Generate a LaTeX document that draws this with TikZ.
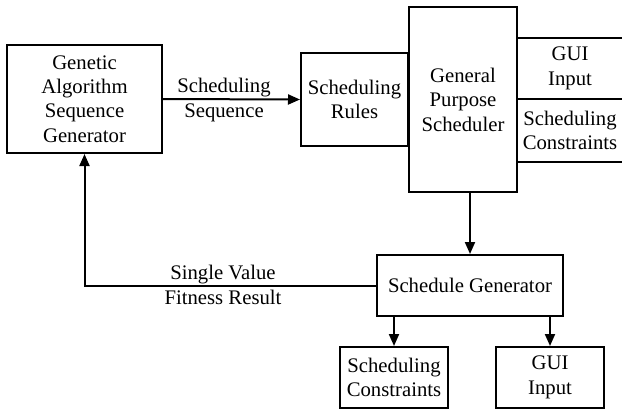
\documentclass[tikz,border=0pt]{standalone}
\usepackage{fontspec}
\setmainfont{Liberation Serif}
\usetikzlibrary{arrows.meta,calc}
\begin{document}
\begin{tikzpicture}[x=1bp,y=-1bp,
  line width=2bp,
  every node/.style={font=\fontsize{20.8}{24.5}\selectfont, align=center, inner sep=0pt},
  box/.style={draw, rectangle},
  arr/.style={-{Triangle[length=12bp,width=10bp]}},
  lbl/.style={draw=none}]
\useasboundingbox (0,0) rectangle (622,411);
\node[box, minimum width=155bp, minimum height=108bp] (ga) at (84.5,99) {Genetic\\Algorithm\\Sequence\\Generator};
\node[box, minimum width=107bp, minimum height=93bp] (sr) at (354.5,99.5) {Scheduling\\Rules};
\node[box, minimum width=108bp, minimum height=185bp] (gps) at (463,99.5) {General\\Purpose\\Scheduler};
\node[box, minimum width=186bp, minimum height=61bp] (sg) at (470,285.5) {Schedule Generator};
\node[box, minimum width=108bp, minimum height=61bp] (sc) at (394,377.5) {Scheduling\\Constraints};
\node[box, minimum width=108bp, minimum height=61bp] (gui) at (550,377.5) {GUI\\Input};
% right side inputs
\coordinate (r1) at (622,38);
\coordinate (r2) at (622,99);
\coordinate (r3) at (622,162);
\draw (gps.east |- r1) -- (r1);
\draw (gps.east |- r2) -- (r2);
\draw (gps.east |- r3) -- (r3);
\node[lbl] (guiin) at (570,68.5) {GUI\\Input};
\node[lbl] (scin) at (570,130.5) {Scheduling\\Constraints};
% connectors
\draw[arr] (ga.east) -- (sr.west);
\node[lbl] (seqlbl) at (224,100) {Scheduling\\Sequence};
\draw[arr] (sg.north |- gps.south) -- (sg.north);
\draw[arr] (sc.north |- sg.south) -- (sc.north);
\draw[arr] (gui.north |- sg.south) -- (gui.north);
\draw[arr] (sg.west) -- (sg.west -| ga.south) -- (ga.south);
\node[lbl] (fitlbl) at (223,285) {Single Value\\Fitness Result};
\end{tikzpicture}
\end{document}
